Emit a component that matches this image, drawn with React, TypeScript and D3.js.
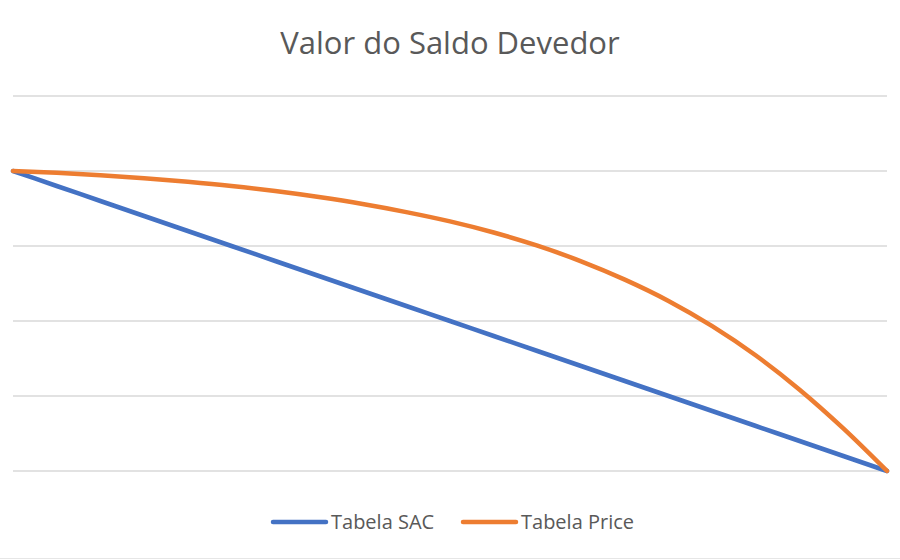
import * as d3 from 'd3'

// Loan balance per period (thousands)
const periods = d3.range(0, 21)
const sacBalance = [100, 95, 90, 85, 80, 75, 70, 65, 60, 55, 50, 45, 40, 35, 30, 25, 20, 15, 10, 5, 0]
const priceBalance = [100, 99.4, 98.6, 97.6, 96.4, 95.0, 93.3, 91.3, 89.0, 86.3, 83.2, 79.5, 75.1, 69.9, 63.8, 56.7, 48.3, 38.5, 27.1, 14.2, 0]
const yTicks = [0, 25, 50, 75, 100, 125]

const series = [
  { name: 'Tabela SAC', color: '#4472C4', values: sacBalance },
  { name: 'Tabela Price', color: '#ED7D31', values: priceBalance },
]

const width = 900
const height = 560
const margin = { top: 96, right: 13, bottom: 89, left: 13 }
const font = '"Open Sans", "Noto Sans", sans-serif'

export default function App() {
  const x = d3
    .scaleLinear()
    .domain([0, periods.length - 1])
    .range([margin.left, width - margin.right])

  const y = d3
    .scaleLinear()
    .domain([0, 125])
    .range([height - margin.bottom, margin.top])

  const line = d3
    .line<number>()
    .x((_, i) => x(periods[i]))
    .y(d => y(d))
    .curve(d3.curveMonotoneX)

  // legend layout
  const legendY = 522
  const legendItems = [
    { ...series[0], x0: 273 },
    { ...series[1], x0: 463 },
  ]

  return (
    <svg
      width={width}
      height={height}
      style={{ position: 'absolute', left: 0, top: 0, background: '#fff' }}
    >
      <text
        x={450}
        y={54}
        textAnchor="middle"
        fontFamily={font}
        fontSize={31}
        fill="#595959"
      >
        Valor do Saldo Devedor
      </text>

      {yTicks.map(t => (
        <line
          key={t}
          x1={x.range()[0]}
          x2={x.range()[1]}
          y1={y(t)}
          y2={y(t)}
          stroke="#d9d9d9"
          strokeWidth={1.3}
        />
      ))}

      {series.map(s => (
        <path
          key={s.name}
          d={line(s.values) ?? ''}
          fill="none"
          stroke={s.color}
          strokeWidth={4.5}
          strokeLinejoin="round"
          strokeLinecap="round"
        />
      ))}

      {legendItems.map(item => (
        <g key={item.name}>
          <line
            x1={item.x0}
            x2={item.x0 + 53}
            y1={legendY}
            y2={legendY}
            stroke={item.color}
            strokeWidth={4.5}
            strokeLinecap="round"
          />
          <text
            x={item.x0 + 58}
            y={legendY}
            dy="0.35em"
            fontFamily={font}
            fontSize={20}
            fill="#595959"
          >
            {item.name}
          </text>
        </g>
      ))}

      <line x1={0} x2={width} y1={558.5} y2={558.5} stroke="#e6e6e6" strokeWidth={1} />
    </svg>
  )
}
